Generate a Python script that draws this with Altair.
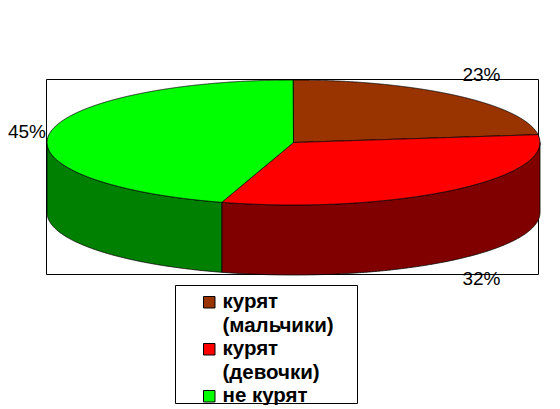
import numpy as np
import pandas as pd
import altair as alt

categories = ["курят|(мальчики)", "курят|(девочки)", "не курят"]
shares = [23, 31.7, 45.3]
top_colors = ["#993300", "#ff0000", "#00ff00"]
side_colors = ["#4d1900", "#800000", "#008000"]
value_labels = ["23%", "32%", "45%"]
label_x = [481.5, 481.5, 27]
label_y = [75, 279, 132]

CX, CY, RX, RY, DEPTH = 293.5, 142.5, 246.5, 62.5, 70
FONT = "Liberation Sans"


def ell(a):
    return CX + RX * np.sin(a), CY - RY * np.cos(a)


def top_rows(cat, a0, a1):
    a = np.linspace(a0, a1, 400)
    px, py = ell(a)
    px = np.r_[CX, px, CX]
    py = np.r_[CY, py, CY]
    xs = np.unique(np.r_[np.linspace(px.min(), px.max(), 700), CX])
    rows = []
    for x in xs:
        ys = []
        for i in range(len(px) - 1):
            lo, hi = sorted((px[i], px[i + 1]))
            if lo <= x <= hi:
                if hi == lo:
                    ys += [py[i], py[i + 1]]
                else:
                    ys.append(py[i] + (py[i + 1] - py[i]) * (x - px[i]) / (px[i + 1] - px[i]))
        if ys:
            rows.append({"cat": cat, "x": x, "y": min(ys), "y2": max(ys)})
    return rows


cum = np.cumsum([0] + shares) / 100 * 2 * np.pi
top, side = [], []
for i, c in enumerate(categories):
    top += top_rows(c, cum[i], cum[i + 1])
    a0, a1 = max(cum[i], np.pi / 2), min(cum[i + 1], 3 * np.pi / 2)
    if a1 > a0:
        xs, ys = ell(np.linspace(a0, a1, 300))
        order = np.argsort(xs)
        for x, y in zip(xs[order], ys[order]):
            side.append({"cat": c, "x": x, "y": y, "y2": y + DEPTH})

W, H = 544, 397
X = alt.Scale(domain=[8, 552], nice=False, zero=False)
Y = alt.Scale(domain=[405, 8], nice=False, zero=False)
xe = alt.X("x:Q", scale=X, axis=None)
ye = alt.Y("y:Q", scale=Y, axis=None)


def box(x, x2, y, y2):
    return alt.Chart(pd.DataFrame({"x": [x], "x2": [x2], "y": [y], "y2": [y2]})).mark_rect(
        fill="white", stroke="black", strokeWidth=1
    ).encode(xe, ye, x2="x2:Q", y2="y2:Q")


frame = box(46.5, 538.5, 79.5, 274.5)
legend_box = box(175.5, 357.5, 285.5, 403.5)

side_layer = alt.Chart(pd.DataFrame(side)).mark_area(stroke="black", strokeWidth=0.8).encode(
    xe, ye, y2="y2:Q",
    color=alt.Color("cat:N", scale=alt.Scale(domain=categories, range=side_colors), legend=None),
)

top_layer = alt.Chart(pd.DataFrame(top)).mark_area(stroke="black", strokeWidth=0.8).encode(
    xe, ye, y2="y2:Q",
    fill=alt.Fill(
        "cat:N",
        scale=alt.Scale(domain=categories, range=top_colors),
        legend=alt.Legend(
            title=None, orient="none", legendX=191, legendY=284,
            padding=0,
            symbolType="square", symbolSize=132, symbolStrokeColor="black", symbolStrokeWidth=1,
            symbolOffset=0, labelFont=FONT, labelFontSize=20.5, labelFontWeight="bold", labelColor="black",
            labelExpr="split(datum.label, '|')", labelOffset=3, rowPadding=2,
            labelLimit=200, columnPadding=0,
        ),
    ),
)

texts = alt.Chart(pd.DataFrame({"x": label_x, "y": label_y, "t": value_labels})).mark_text(
    font=FONT, fontSize=19, color="black"
).encode(xe, ye, text="t:N")

chart = (
    alt.layer(frame, legend_box, side_layer, top_layer, texts)
    .resolve_scale(color="independent", fill="independent")
    .properties(
        width=W, height=H, padding=0, autosize="none",
        config={"view": {"stroke": None}, "style": {"guide-label": {"lineHeight": 24}}},
    )
)
chart.save("out.html", embed_options={"renderer": "svg", "actions": False})
